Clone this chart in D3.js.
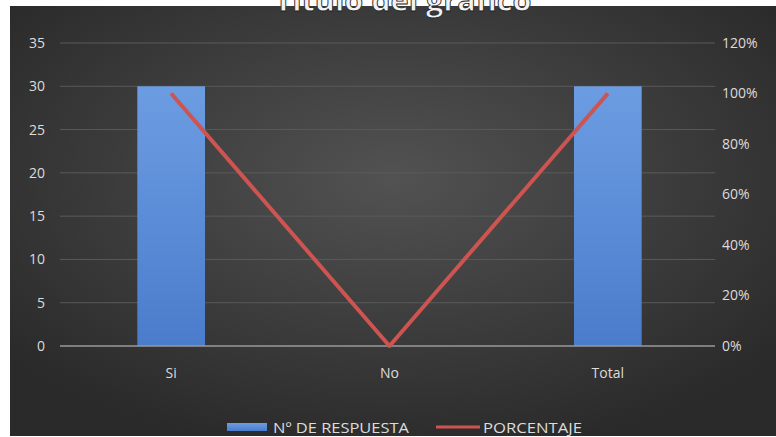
<!DOCTYPE html>
<html>
<head>
<meta charset="utf-8">
<script src="https://cdn.jsdelivr.net/npm/d3@7"></script>
<style>
  body { margin: 0; background: #ffffff; }
  svg { display: block; }
</style>
</head>
<body>
<svg id="chart"></svg>
<script>
const width = 776;
const height = 437;

// Data
const categories = ["Si", "No", "Total"];
const respuestas = [30, 0, 30];
const porcentaje = [1.0, 0.0, 1.0];

const leftTicks = [0, 5, 10, 15, 20, 25, 30, 35];
const rightTicks = [0, 0.2, 0.4, 0.6, 0.8, 1.0, 1.2];

const titleText = "Título del gráfico";
const legendLabels = ["Nº DE RESPUESTA", "PORCENTAJE"];

const plot = {left: 62, right: 717, top: 43, bottom: 346};
const fontFamily = "'Open Sans', 'Noto Sans', sans-serif";
const labelColor = "#dcdcdc";

const svg = d3.select("#chart")
    .attr("width", width)
    .attr("height", height);

const defs = svg.append("defs");

// background: dark radial gradient, lighter in the middle
const bg = defs.append("radialGradient")
    .attr("id", "bgGrad")
    .attr("cx", "50%").attr("cy", "40%").attr("r", "65%");
bg.append("stop").attr("offset", "0%").attr("stop-color", "#525252");
bg.append("stop").attr("offset", "100%").attr("stop-color", "#2a2a2a");

const barGrad = defs.append("linearGradient")
    .attr("id", "barGrad")
    .attr("x1", 0).attr("y1", 0).attr("x2", 0).attr("y2", 1);
barGrad.append("stop").attr("offset", "0%").attr("stop-color", "#6c9de2");
barGrad.append("stop").attr("offset", "100%").attr("stop-color", "#4a7ccc");

svg.append("rect")
    .attr("x", 10).attr("y", 6)
    .attr("width", width - 10).attr("height", 430)
    .attr("fill", "url(#bgGrad)");

// scales
const x = d3.scaleBand()
    .domain(categories)
    .range([plot.left, plot.right])
    .paddingInner(0.69)
    .paddingOuter(0.345);

const yLeft = d3.scaleLinear()
    .domain([0, 35])
    .range([plot.bottom, plot.top]);

const yRight = d3.scaleLinear()
    .domain([0, 1.2])
    .range([plot.bottom, plot.top]);

// gridlines
svg.append("g")
    .selectAll("line")
    .data(leftTicks.filter(d => d > 0))
    .join("line")
    .attr("x1", plot.left - 2)
    .attr("x2", plot.right - 2)
    .attr("y1", d => yLeft(d))
    .attr("y2", d => yLeft(d))
    .attr("stroke", "#5a5a5a")
    .attr("stroke-width", 1);

// left axis
const leftAxis = svg.append("g")
    .attr("transform", `translate(${plot.left - 17},0)`)
    .call(d3.axisLeft(yLeft).tickValues(leftTicks).tickSize(0).tickPadding(0));
leftAxis.select(".domain").remove();

// right axis
const rightAxis = svg.append("g")
    .attr("transform", `translate(${plot.right + 5},0)`)
    .call(d3.axisRight(yRight).tickValues(rightTicks).tickSize(0).tickPadding(0)
        .tickFormat(d3.format(".0%")));
rightAxis.select(".domain").remove();

svg.selectAll(".tick text")
    .attr("fill", labelColor)
    .style("font-family", fontFamily)
    .style("font-size", "14px");

// bars
svg.append("g")
    .selectAll("rect")
    .data(categories)
    .join("rect")
    .attr("x", d => x(d))
    .attr("y", (d, i) => yLeft(respuestas[i]))
    .attr("width", x.bandwidth())
    .attr("height", (d, i) => yLeft(0) - yLeft(respuestas[i]))
    .attr("fill", "url(#barGrad)");

// baseline
svg.append("line")
    .attr("x1", plot.left - 2)
    .attr("x2", plot.right - 2)
    .attr("y1", yLeft(0))
    .attr("y2", yLeft(0))
    .attr("stroke", "#9a9a9a")
    .attr("stroke-width", 1.5);

// bottom axis labels
const bottomAxis = svg.append("g")
    .attr("transform", `translate(0,${plot.bottom + 22})`)
    .call(d3.axisBottom(x).tickSize(0).tickPadding(0));
bottomAxis.select(".domain").remove();
bottomAxis.selectAll("text")
    .attr("fill", labelColor)
    .style("font-family", fontFamily)
    .style("font-size", "14px");

// percentage line
const line = d3.line()
    .x((d, i) => x(categories[i]) + x.bandwidth() / 2)
    .y(d => yRight(d));

svg.append("path")
    .datum(porcentaje)
    .attr("d", line)
    .attr("fill", "none")
    .attr("stroke", "#cd5450")
    .attr("stroke-width", 4)
    .attr("stroke-linejoin", "round");

// title (cut off at the top, as in the original)
svg.append("text")
    .attr("x", 403)
    .attr("y", 11)
    .attr("text-anchor", "middle")
    .attr("fill", "#f2f2f2")
    .attr("stroke", "#222")
    .attr("stroke-width", 0.8)
    .attr("textLength", 257)
    .attr("lengthAdjust", "spacingAndGlyphs")
    .style("font-family", fontFamily)
    .style("font-weight", "bold")
    .style("font-size", "28px")
    .text(titleText);

// legend
const legend = svg.append("g").attr("transform", "translate(0,427)");
legend.append("rect")
    .attr("x", 227).attr("y", -4)
    .attr("width", 40).attr("height", 8)
    .attr("fill", "url(#barGrad)");
legend.append("text")
    .attr("x", 273).attr("y", 6)
    .attr("fill", labelColor)
    .attr("textLength", 136)
    .attr("lengthAdjust", "spacingAndGlyphs")
    .style("font-family", fontFamily)
    .style("font-size", "15px")
    .text(legendLabels[0]);
legend.append("line")
    .attr("x1", 436).attr("x2", 480)
    .attr("y1", 0).attr("y2", 0)
    .attr("stroke", "#cd5450")
    .attr("stroke-width", 3);
legend.append("text")
    .attr("x", 483).attr("y", 6)
    .attr("fill", labelColor)
    .attr("textLength", 99)
    .attr("lengthAdjust", "spacingAndGlyphs")
    .style("font-family", fontFamily)
    .style("font-size", "15px")
    .text(legendLabels[1]);
</script>
</body>
</html>
